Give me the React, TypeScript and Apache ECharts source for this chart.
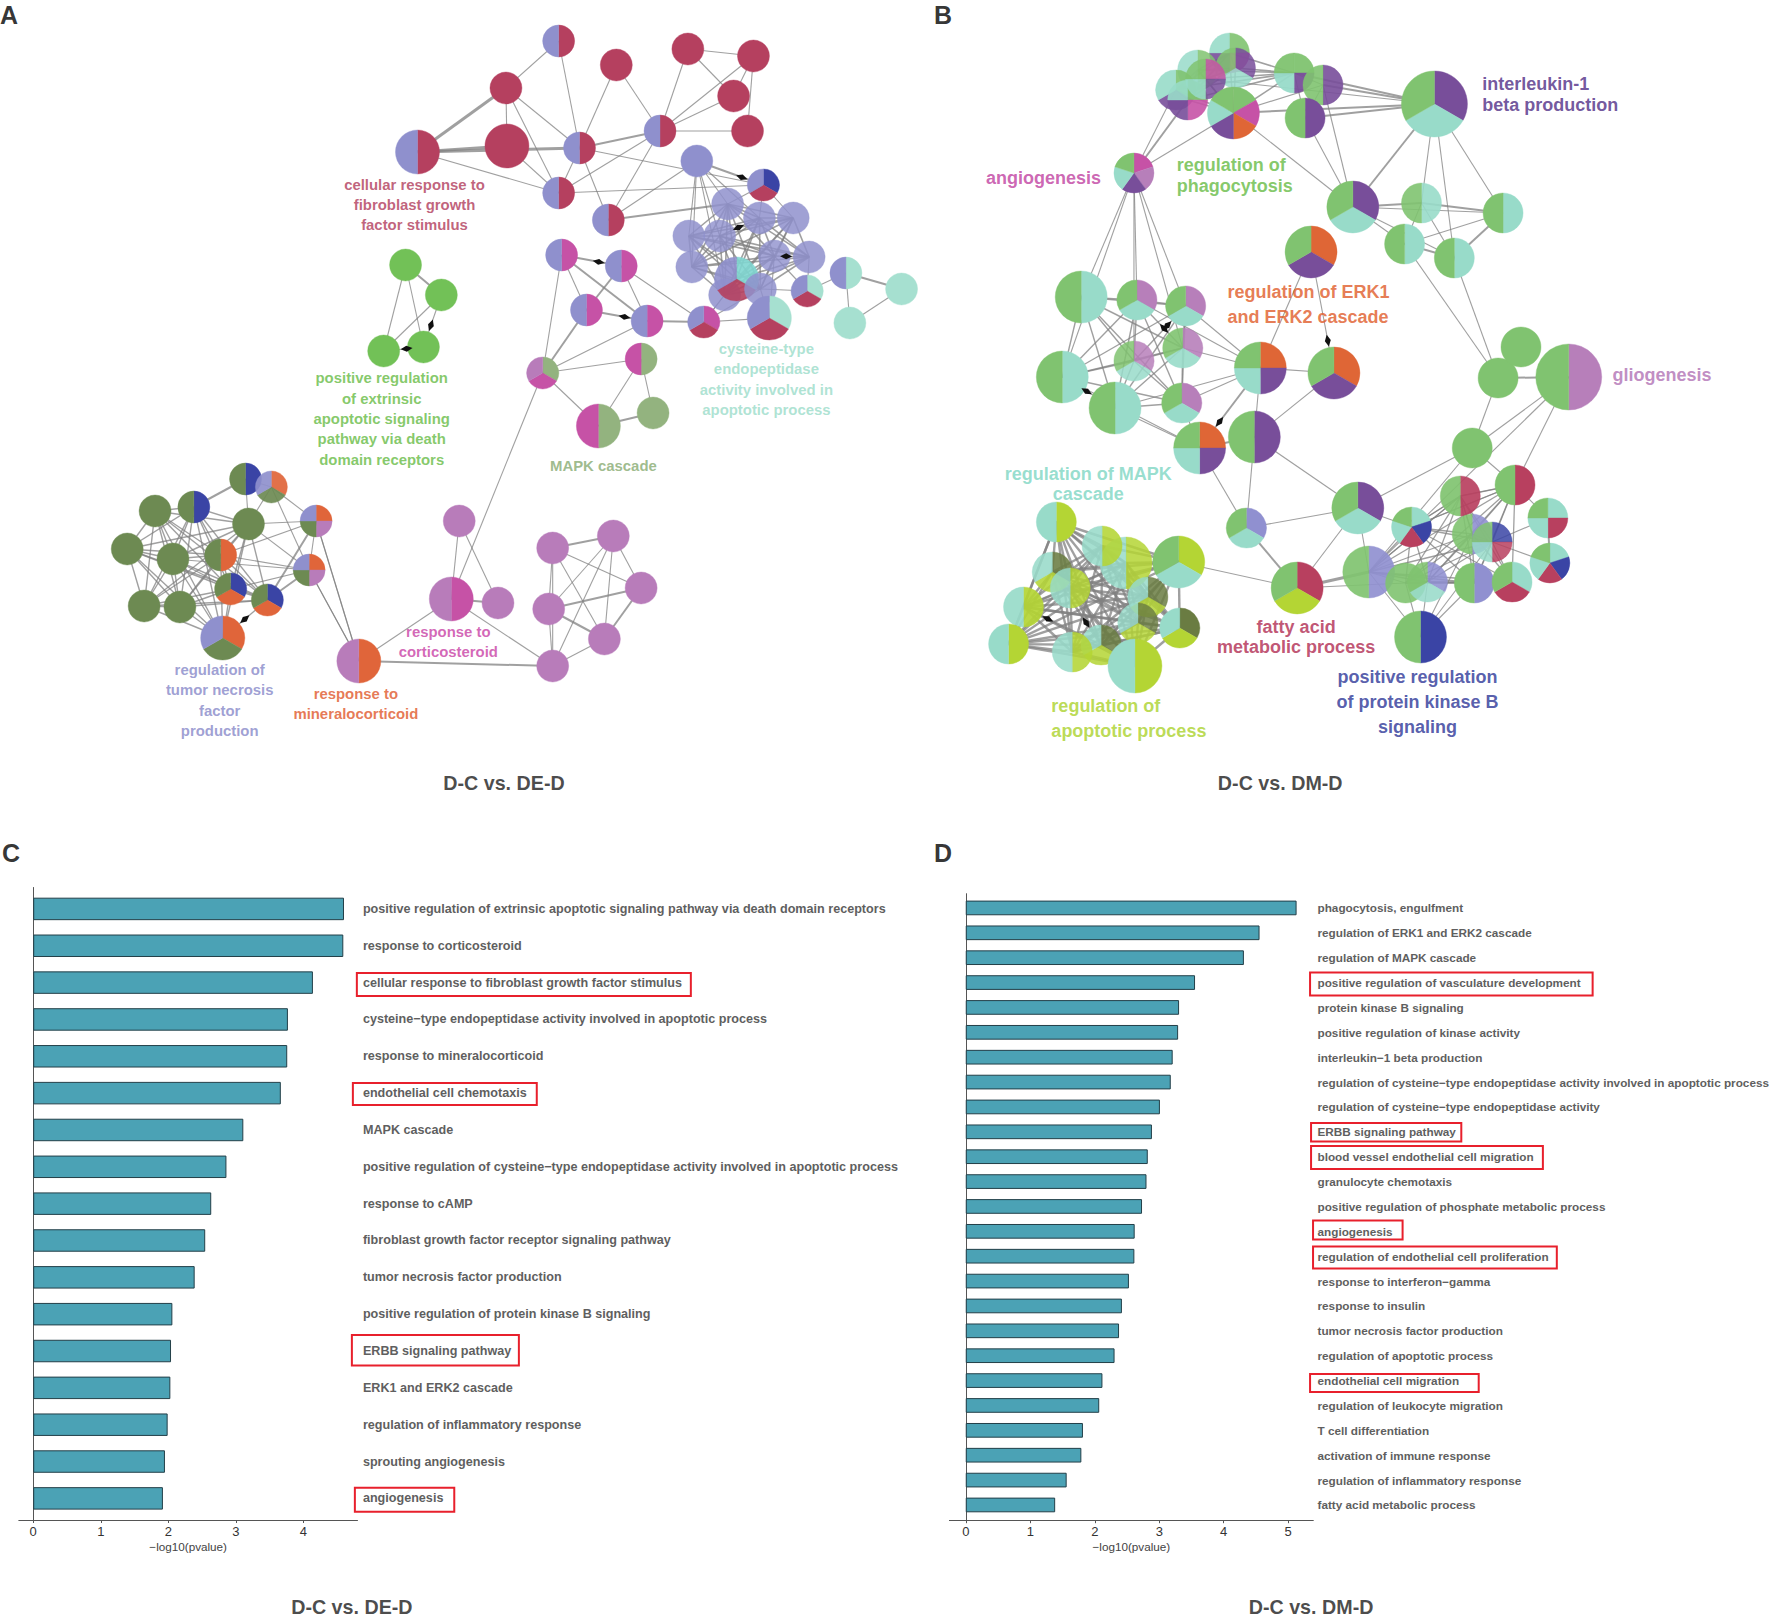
import React, { useEffect, useRef } from "react";
import * as echarts from "echarts";

const FONT = "'Liberation Sans', Arial, sans-serif";

const categoriesC = [
  "positive regulation of extrinsic apoptotic signaling pathway via death domain receptors",
  "response to corticosteroid",
  "cellular response to fibroblast growth factor stimulus",
  "cysteine−type endopeptidase activity involved in apoptotic process",
  "response to mineralocorticoid",
  "endothelial cell chemotaxis",
  "MAPK cascade",
  "positive regulation of cysteine−type endopeptidase activity involved in apoptotic process",
  "response to cAMP",
  "fibroblast growth factor receptor signaling pathway",
  "tumor necrosis factor production",
  "positive regulation of protein kinase B signaling",
  "ERBB signaling pathway",
  "ERK1 and ERK2 cascade",
  "regulation of inflammatory response",
  "sprouting angiogenesis",
  "angiogenesis",
];
const valuesC = [4.6, 4.59, 4.14, 3.77, 3.76, 3.665, 3.11, 2.86, 2.635, 2.546, 2.39, 2.06, 2.04, 2.03, 1.99, 1.95, 1.92];

const categoriesD = [
  "phagocytosis, engulfment",
  "regulation of ERK1 and ERK2 cascade",
  "regulation of MAPK cascade",
  "positive regulation of vasculature development",
  "protein kinase B signaling",
  "positive regulation of kinase activity",
  "interleukin−1 beta production",
  "regulation of cysteine−type endopeptidase activity involved in apoptotic process",
  "regulation of cysteine−type endopeptidase activity",
  "ERBB signaling pathway",
  "blood vessel endothelial cell migration",
  "granulocyte chemotaxis",
  "positive regulation of phosphate metabolic process",
  "angiogenesis",
  "regulation of endothelial cell proliferation",
  "response to interferon−gamma",
  "response to insulin",
  "tumor necrosis factor production",
  "regulation of apoptotic process",
  "endothelial cell migration",
  "regulation of leukocyte migration",
  "T cell differentiation",
  "activation of immune response",
  "regulation of inflammatory response",
  "fatty acid metabolic process",
];
const valuesD = [5.18, 4.6, 4.355, 3.59, 3.34, 3.325, 3.24, 3.21, 3.04, 2.915, 2.85, 2.83, 2.76, 2.645, 2.64, 2.555, 2.445, 2.4, 2.33, 2.14, 2.09, 1.835, 1.81, 1.58, 1.4];

const ticksC = [0, 1, 2, 3, 4];
const ticksD = [0, 1, 2, 3, 4, 5];

const paletteA: Record<string, string> = {
  R: "#b5405f", P: "#8f90cd", N: "#3a44a5", T: "#a6e0d0", t: "#7fd6d0", M: "#c652a6",
  G: "#93b37f", L: "#b87cba", g: "#72c157", O: "#6d8a52", E: "#e0653a",
};
const paletteB: Record<string, string> = {
  G: "#80c370", T: "#98dbc9", V: "#784e9a", E: "#df6636", L: "#b77fba", M: "#c652a6",
  C: "#b8405f", N: "#3a44a5", P: "#9090d0", Y: "#b4d534", D: "#6a7c42",
};

// x, y, radius, slices clockwise from 12 o'clock, opacity
type Node = [number, number, number, string, number?];
const nodesA: Node[] = [
  [562, 41, 16, "RP"], [509, 88, 16, "R"], [620, 65, 16, "R"], [692, 49, 16, "R"], [758, 56, 16, "R"],
  [738, 96, 16, "R"], [752, 131, 16, "R"], [664, 131, 16, "RP"], [583, 148, 16, "RP"], [510, 146, 22, "R"],
  [420, 152, 22, "RP"], [562, 193, 16, "RP"], [612, 220, 16, "RP"], [701, 161, 16, "P"], [768, 185, 16, "NRP"],
  [732, 204, 16, "P", 0.85], [764, 218, 16, "P", 0.85], [798, 218, 16, "P", 0.85], [693, 236, 16, "P", 0.85],
  [724, 236, 16, "P", 0.8], [779, 256, 16, "P", 0.8], [814, 257, 16, "P", 0.85], [696, 267, 16, "P", 0.85],
  [729, 295, 16, "P", 0.85], [741, 279, 22, "tRP", 0.9], [812, 291, 16, "TRP"], [765, 289, 16, "P", 0.85],
  [851, 273, 16, "TP"], [907, 289, 16, "T"], [855, 323, 16, "T"], [774, 318, 22, "TRP"], [708, 322, 16, "MRP"],
  [565, 255, 16, "MP"], [625, 266, 16, "MP"], [590, 310, 16, "MP"], [651, 321, 16, "MP"], [546, 373, 16, "GML"],
  [645, 359, 16, "GM"], [602, 426, 22, "GM"], [657, 413, 16, "G"], [408, 265, 16, "g"], [444, 295, 16, "g"],
  [386, 351, 16, "g"], [426, 347, 16, "g"], [247, 479, 16, "NO"], [273, 487, 16, "EOP", 0.92], [195, 507, 16, "NO"],
  [156, 511, 16, "O"], [250, 524, 16, "O"], [128, 549, 16, "O"], [174, 559, 16, "O"], [222, 555, 16, "EO"],
  [318, 521, 16, "ELOP"], [311, 570, 16, "ELOP"], [232, 589, 16, "NEO"], [269, 600, 16, "NEO"], [145, 606, 16, "O"],
  [181, 607, 16, "O"], [224, 638, 22, "EOP"], [361, 661, 22, "EL"], [462, 521, 16, "L"], [454, 599, 22, "ML"],
  [501, 603, 16, "L"], [556, 548, 16, "L"], [617, 536, 16, "L"], [645, 588, 16, "L"], [552, 609, 16, "L"],
  [608, 639, 16, "L"], [556, 666, 16, "L"],
];
const edgesA = "0-1 0-8 1-8 1-9 1-11 9-11 2-8 2-7 3-7 3-4 3-5 4-5 4-7 4-6 7-6 7-5 8-7:2 8-11 8-12 8-14 7-11 7-12 10-11 11-14 12-13 12-15:2 10-1:3 10-9:3 10-8:3 13-14:2 13-15 13-16 13-18 13-19 13-22 13-23 14-15 14-16 14-17 31-30 31-26 31-23 31-24 30-26 30-20 25-26 25-20 25-21 25-27 27-28:2 27-29 28-29 32-33:2 32-34 32-35:2 34-35:2 33-35 33-34:2 33-31 35-31:2 34-36:2 32-36 35-36 36-37 36-38 37-38 38-39:2 37-39 36-61 61-60 61-62:2 60-62 61-59 59-68:2 61-68 59-53 59-52 63-64:2 63-65 63-66 63-67 63-68 64-65 64-66 64-67 65-66:2 66-67:2 65-67:2 66-68 67-68 64-68 40-41:2 40-42 40-43 41-42 41-43 42-43 44-46:2 44-45 44-48 45-48 45-52 45-53 52-53 52-55:2 52-48 52-51 53-55:2 53-51 53-50 53-54 53-48 59-52 59-53";
const cliquesA: [number[], number][] = [
  [[15, 16, 17, 18, 19, 20, 21, 22, 23, 24, 26], 1.6],
  [[46, 47, 48, 49, 50, 51, 54, 55, 56, 57, 58], 1.4],
];
const arrowsA = ["32-33", "34-35", "13-14", "41-43", "43-42", "55-58", "19-16", "20-21"];

const nodesB: Node[] = [
  [1231, 53, 20, "GMVT", 0.9], [1199, 70, 20, "GT", 0.85], [1237, 68, 20, "VTG", 0.85], [1177, 90, 20, "GVT", 0.9],
  [1189, 100, 20, "GMVT", 0.9], [1207, 79, 20, "MVTG", 0.85], [1235, 113, 26, "GMEVTG"], [1296, 73, 20, "GVTG", 0.95],
  [1325, 85, 20, "VG", 0.9], [1307, 118, 20, "VG"], [1437, 104, 33, "VTG"], [1135, 173, 20, "MLVTG"],
  [1355, 207, 26, "VTG"], [1424, 203, 20, "TG", 0.9], [1506, 213, 20, "TG"], [1407, 244, 20, "TG"], [1457, 258, 20, "TG"],
  [1313, 252, 26, "EVG"], [1082, 297, 26, "TG"], [1138, 300, 20, "LTG"], [1187, 306, 20, "LTG"], [1184, 348, 20, "LTG", 0.9],
  [1135, 361, 20, "LTG", 0.85], [1063, 377, 26, "TG"], [1262, 368, 26, "EVTG"], [1336, 373, 26, "EVG"], [1501, 378, 20, "G"],
  [1524, 347, 20, "G"], [1572, 377, 33, "LG"], [1116, 408, 26, "TG"], [1183, 403, 20, "LTG"], [1201, 448, 26, "EVTG"],
  [1256, 437, 26, "VG"], [1475, 448, 20, "G"], [1518, 485, 20, "CG"], [1463, 496, 20, "CG", 0.92], [1551, 518, 20, "TCTG"],
  [1360, 508, 26, "VTG"], [1414, 527, 20, "TNCTG"], [1248, 528, 20, "PTG"], [1475, 534, 20, "PG", 0.9], [1495, 542, 20, "NCTG", 0.85],
  [1553, 563, 20, "TNCTG"], [1299, 588, 26, "CYG"], [1371, 572, 26, "PG", 0.92], [1408, 583, 20, "G", 0.9], [1430, 582, 20, "PTG", 0.88],
  [1477, 583, 20, "PG"], [1515, 582, 20, "TCG"], [1423, 637, 26, "NG"], [1057, 522, 20, "YT"], [1127, 563, 26, "YT", 0.85],
  [1103, 546, 20, "YT", 0.88], [1180, 562, 26, "YTG"], [1053, 572, 20, "DYT", 0.88], [1071, 588, 20, "YT", 0.85], [1149, 597, 20, "DYT", 0.85],
  [1024, 607, 20, "YT", 0.92], [1139, 623, 20, "DYT", 0.82], [1181, 628, 20, "DYT"], [1009, 644, 20, "YT"], [1102, 645, 20, "DYT", 0.85],
  [1073, 652, 20, "YT", 0.88], [1136, 666, 27, "YT"],
];
const edgesB = "6-8 6-10:2 7-10:2 8-10:2 9-10:2 5-10 7-8 7-9 8-9 6-12 9-12 8-12 10-12:2 10-13 10-16 10-14 12-13:2 12-14 12-15 12-16 13-14:2 13-15 13-16 14-15 14-16:2 15-16:2 15-26 16-26 11-3 11-4:2 11-6 11-18 11-19 11-20 11-21 11-22 11-23 17-24 17-25 24-25 24-31:2 24-32 25-32 32-31:2 31-29 32-37 31-39 32-39 39-43:2 39-37 37-43 37-33 37-44 37-38 43-44:3 43-45 43-53 26-28:2 26-27 26-33 28-33 28-34 28-44 33-34 33-44 34-35 34-36 36-42:2 34-38 35-38 36-41 41-42 35-44 35-40 49-44 49-45 49-46 49-47 49-40 49-41 24-20 24-21 24-19 24-29 30-31 30-24 20-21 23-31";
const cliquesB: [number[], number][] = [
  [[0, 1, 2, 3, 4, 5, 6, 7], 1.6],
  [[18, 19, 20, 21, 22, 23, 29, 30], 1.4],
  [[34, 35, 38, 40, 41, 44, 45, 46, 47, 48], 1.3],
  [[50, 51, 52, 53, 54, 55, 56, 57, 58, 59, 60, 61, 62, 63], 2.4],
];
const arrowsB = ["17-25", "24-31", "19-21", "22-20", "23-29", "61-57", "54-61"];

// text, centre x, centre y, colour, alignment, size, line height
type Lab = [string, number, number, string, string, number, number];
const netLabelsA: Lab[] = [
  ["cellular response to\nfibroblast growth\nfactor stimulus", 417, 205, "#b03a5a", "center", 14.9, 20.3],
  ["positive regulation\nof extrinsic\napoptotic signaling\npathway via death\ndomain receptors", 384, 419, "#66bb44", "center", 14.9, 20.3],
  ["cysteine-type\nendopeptidase\nactivity involved in\napoptotic process", 771, 379.5, "#9adcc9", "center", 14.9, 20.3],
  ["MAPK cascade", 607, 466, "#86aa70", "center", 14.9, 20.3],
  ["response to\ncorticosteroid", 451, 642, "#c83fa5", "center", 14.9, 20.3],
  ["response to\nmineralocorticoid", 358, 704, "#e0572a", "center", 14.9, 20.3],
  ["regulation of\ntumor necrosis\nfactor\nproduction", 221, 700.5, "#8687c8", "center", 14.9, 20.3],
];
const netLabelsB: Lab[] = [
  ["interleukin-1\nbeta production", 1485, 94.5, "#4f2d85", "left", 18, 21],
  ["angiogenesis", 1044, 178, "#c040a0", "center", 18, 21],
  ["regulation of\nphagocytosis", 1178, 175.5, "#66bb44", "left", 18, 20.5],
  ["regulation of ERK1\nand ERK2 cascade", 1229, 304, "#e05a28", "left", 18, 25],
  ["gliogenesis", 1616, 375, "#b070b4", "left", 18, 21],
  ["regulation of MAPK\ncascade", 1089, 484, "#7dd6c2", "center", 18, 20.5],
  ["regulation of\napoptotic process", 1052, 718, "#aad22a", "left", 18, 25],
  ["fatty acid\nmetabolic process", 1298, 637, "#b02a50", "center", 18, 20.5],
  ["positive regulation\nof protein kinase B\nsignaling", 1420, 701.5, "#2c3597", "center", 18, 25],
];

const titlesLeft: Lab[] = [
  ["A", 9, 15, "#000", "center", 25, 26],
  ["C", 11, 853, "#000", "center", 25, 26],
  ["D-C vs. DE-D", 507, 783, "#1c1c1c", "center", 19.7, 22],
  ["D-C vs. DE-D", 354, 1607, "#1c1c1c", "center", 19.7, 22],
];
const titlesRight: Lab[] = [
  ["B", 943, 15, "#000", "center", 25, 26],
  ["D", 943, 853, "#000", "center", 25, 26],
  ["D-C vs. DM-D", 1282, 783, "#1c1c1c", "center", 19.7, 22],
  ["D-C vs. DM-D", 1313, 1607, "#1c1c1c", "center", 19.7, 22],
];

// red frames: left, top, right, bottom on the page
const framesC = [
  [359, 973, 695, 996], [355, 1083, 540, 1105], [354, 1335, 522, 1365.5], [357, 1487.7, 457, 1511.7],
];
const framesD = [
  [1312, 972.5, 1596, 995.5], [1313, 1123, 1464, 1141.6], [1313, 1146, 1546, 1169], [1315, 1220.6, 1405, 1239.6],
  [1315, 1246.5, 1560, 1268.5], [1312, 1374, 1481.5, 1392],
];

function parseEdges(text: string, cliques: [number[], number][]) {
  const list: [number, number, number][] = text.split(" ").map((s) => {
    const [pair, w] = s.split(":");
    const [a, b] = pair.split("-").map(Number);
    return [a, b, w ? Number(w) : 1.1];
  });
  cliques.forEach(([ids, w]) => {
    ids.forEach((a, i) => ids.slice(i + 1).forEach((b) => list.push([a, b, w])));
  });
  return list;
}

function edgeSeries(nodes: Node[], edges: [number, number, number][], axis: number) {
  return {
    type: "custom", xAxisIndex: axis, yAxisIndex: axis, silent: true, z: 2, clip: false,
    data: edges.map((e) => [nodes[e[0]][0], nodes[e[0]][1], nodes[e[1]][0], nodes[e[1]][1], e[2]]),
    encode: { x: [0, 2], y: [1, 3] },
    renderItem: (_: any, api: any) => {
      const p = api.coord([api.value(0), api.value(1)]);
      const q = api.coord([api.value(2), api.value(3)]);
      return {
        type: "line",
        shape: { x1: p[0], y1: p[1], x2: q[0], y2: q[1] },
        style: { stroke: "#808080", lineWidth: api.value(4), opacity: 0.75 },
      };
    },
  };
}

function arrowSeries(nodes: Node[], arrows: string[], axis: number) {
  const pairs = arrows.map((s) => s.split("-").map(Number));
  return {
    type: "custom", xAxisIndex: axis, yAxisIndex: axis, silent: true, z: 5, clip: false,
    data: pairs.map(([a, b]) => [nodes[a][0], nodes[a][1], nodes[b][0], nodes[b][1], nodes[b][2]]),
    encode: { x: [0, 2], y: [1, 3] },
    renderItem: (_: any, api: any) => {
      const p = api.coord([api.value(0), api.value(1)]);
      const q = api.coord([api.value(2), api.value(3)]);
      const dx = q[0] - p[0];
      const dy = q[1] - p[1];
      const len = Math.hypot(dx, dy) || 1;
      const ux = dx / len;
      const uy = dy / len;
      const r = api.value(4) + 1;
      const tip = [q[0] - ux * r, q[1] - uy * r];
      const back = [tip[0] - ux * 12, tip[1] - uy * 12];
      const mid = [tip[0] - ux * 6, tip[1] - uy * 6];
      return {
        type: "polygon",
        shape: {
          points: [tip, [mid[0] - uy * 3, mid[1] + ux * 3], back, [mid[0] + uy * 3, mid[1] - ux * 3]],
        },
        style: { fill: "#111" },
      };
    },
  };
}

function nodeSeries(nodes: Node[], palette: Record<string, string>, axis: number) {
  return {
    type: "custom", xAxisIndex: axis, yAxisIndex: axis, silent: true, z: 4, clip: false,
    data: nodes.map((n) => [n[0], n[1], n[2]]),
    encode: { x: 0, y: 1 },
    renderItem: (params: any, api: any) => {
      const node = nodes[params.dataIndex];
      const c = api.coord([api.value(0), api.value(1)]);
      const r = api.value(2);
      const keys = node[3].split("");
      const step = (Math.PI * 2) / keys.length;
      const opacity = node[4] ?? 1;
      return {
        type: "group",
        children: keys.map((k, i) => ({
          type: "sector",
          shape: {
            cx: c[0], cy: c[1], r, r0: 0,
            startAngle: -Math.PI / 2 + i * step,
            endAngle: -Math.PI / 2 + (i + 1) * step,
            clockwise: true,
          },
          style: { fill: palette[k], stroke: palette[k], lineWidth: 0.4, opacity },
        })),
      };
    },
  };
}

function labelSeries(items: Lab[], axis: number) {
  return {
    type: "scatter", xAxisIndex: axis, yAxisIndex: axis, silent: true, symbolSize: 0, z: 6, clip: false,
    data: items.map((l) => ({
      value: [l[1], l[2]],
      label: {
        show: true, position: "inside", formatter: l[0], color: l[3], align: l[4], verticalAlign: "middle",
        fontSize: l[5], fontWeight: "bold", fontFamily: FONT, lineHeight: l[6],
      },
    })),
  };
}

function frameSeries(frames: number[][], axis: number) {
  return {
    type: "custom", xAxisIndex: axis, yAxisIndex: axis, silent: true, z: 5, clip: false,
    data: frames,
    encode: { x: [0, 2], y: [1, 3] },
    renderItem: (_: any, api: any) => {
      const p = api.coord([api.value(0), api.value(1)]);
      const q = api.coord([api.value(2), api.value(3)]);
      return {
        type: "rect",
        shape: { x: p[0], y: p[1], width: q[0] - p[0], height: q[1] - p[1] },
        style: { fill: "none", stroke: "#e8202c", lineWidth: 2 },
      };
    },
  };
}

function barSeries(values: number[], axis: number, gap: string) {
  return {
    type: "bar", xAxisIndex: axis, yAxisIndex: axis, data: values, barCategoryGap: gap, z: 3,
    itemStyle: { color: "#4ba2b5", borderColor: "#233f48", borderWidth: 1 },
  };
}

function barAxes(min: number, max: number, ticks: number[], gridIndex: number) {
  const line = { lineStyle: { color: "#555", width: 1 } };
  return [
    { type: "value", gridIndex, min, max, show: false },
    {
      type: "value", gridIndex: gridIndex + 1, min, max,
      name: "−log10(pvalue)", nameLocation: "middle", nameGap: 20,
      nameTextStyle: { fontSize: 11.7, color: "#444", fontFamily: FONT },
      splitLine: { show: false },
      axisLine: { show: true, ...line },
      axisTick: { show: true, length: 3, customValues: ticks, ...line },
      axisLabel: { customValues: ticks, fontSize: 13, color: "#333", margin: 5, fontFamily: FONT },
    },
  ];
}

export default function App() {
  const ref = useRef<HTMLDivElement>(null);
  useEffect(() => {
    const chart = echarts.init(ref.current!, undefined, { renderer: "svg" });
    const catAxis = (names: string[], gridIndex: number, size: number, margin: number) => ({
      type: "category", gridIndex, data: names, inverse: true, position: "right",
      axisLine: { show: false, onZero: false }, axisTick: { show: false }, splitLine: { show: false },
      axisLabel: { interval: 0, margin, fontSize: size, fontWeight: "bold", color: "#5f5f5f", fontFamily: FONT },
    });
    const lineAxis = (gridIndex: number) => ({
      type: "value", gridIndex, min: 0, max: 1,
      axisLabel: { show: false }, axisTick: { show: false }, splitLine: { show: false },
      axisLine: { show: true, lineStyle: { color: "#555", width: 1 } },
    });
    const pageX = (gridIndex: number) => ({ type: "value", gridIndex, min: 0, max: 1772, show: false });
    const pageY = (gridIndex: number) => ({ type: "value", gridIndex, min: 0, max: 1620, inverse: true, show: false });
    chart.setOption({
      animation: false,
      backgroundColor: "#fff",
      grid: [
        { left: 0, top: 0, width: 1761.4, height: 1620 },
        { left: 4.65, top: 0, width: 1763.1, height: 1620 },
        { left: 18.8, top: 890.5, width: 338.7, height: 626.3 },
        { left: 18.8, top: 887.5, width: 338.7, height: 632.5 },
        { left: 949.4, top: 895.5, width: 363.9, height: 621.9 },
        { left: 949.4, top: 893.7, width: 363.9, height: 626.5 },
      ],
      xAxis: [
        pageX(0),
        pageX(1),
        ...barAxes(-0.213, 4.8, ticksC, 2),
        ...barAxes(-0.256, 5.39, ticksD, 4),
      ],
      yAxis: [
        pageY(0),
        pageY(1),
        catAxis(categoriesC, 2, 12.6, 5.4),
        lineAxis(3),
        catAxis(categoriesD, 4, 11.75, 7.5),
        lineAxis(5),
      ],
      series: [
        edgeSeries(nodesA, parseEdges(edgesA, cliquesA), 0),
        edgeSeries(nodesB, parseEdges(edgesB, cliquesB), 1),
        nodeSeries(nodesA, paletteA, 0),
        nodeSeries(nodesB, paletteB, 1),
        arrowSeries(nodesA, arrowsA, 0),
        arrowSeries(nodesB, arrowsB, 1),
        barSeries(valuesC, 2, "39%"),
        barSeries(valuesD, 4, "41%"),
        frameSeries(framesC, 0),
        frameSeries(framesD, 1),
        labelSeries(netLabelsA, 0),
        labelSeries(netLabelsB, 1),
        labelSeries(titlesLeft, 0),
        labelSeries(titlesRight, 1),
      ],
    });
    return () => chart.dispose();
  }, []);
  return <div ref={ref} style={{ position: "absolute", left: 0, top: 0, width: 1772, height: 1620 }} />;
}
